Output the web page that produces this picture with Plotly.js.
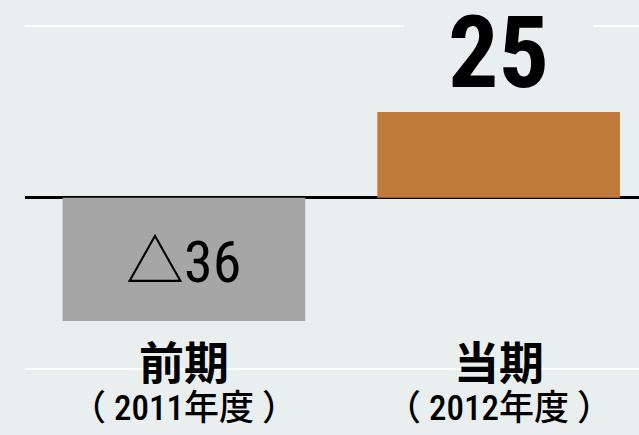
<!DOCTYPE html>
<html>
<head>
<meta charset="utf-8">
<script src="https://cdn.plot.ly/plotly-3.0.1.min.js"></script>
<style>html,body{margin:0;padding:0;background:#e9efef;}</style>
</head>
<body>
<div id="chart" style="width:639px;height:435px;"></div>
<script>
const categories = ['前期', '当期'];
const periods = ['（2011年度）', '（2012年度）'];
const values = [-36, 25];
const valueLabels = ['△36', '25'];
const barColors = ['#a6a6a6', '#c07a3c'];

const BG = '#e9efef';
const narrow = '"Roboto Condensed", "Noto Sans CJK JP", sans-serif';
const cjk = '"Noto Sans CJK JP", "Noto Sans CJK SC", sans-serif';

const trace = {
  type: 'bar',
  x: categories,
  y: values,
  width: 0.771,
  marker: {color: barColors},
  hoverinfo: 'none'
};

const annotations = [];
categories.forEach((c, i) => {
  annotations.push({
    xref: 'x', yref: 'paper', x: c, y: 0.1705, yanchor: 'middle',
    text: '<b>' + c + '</b>', showarrow: false,
    font: {family: cjk, size: 45, color: '#000'}
  });
  annotations.push({
    xref: 'x', yref: 'paper', x: c, y: 0.062, yanchor: 'middle',
    text: periods[i].replace('（', '（\u00a0').replace('）', '\u00a0）'), showarrow: false,
    font: {family: narrow, size: 35, weight: 500, color: '#000'}
  });
  if (values[i] >= 0) {
    annotations.push({
      xref: 'x', yref: 'paper', x: c, y: 0.8816, yanchor: 'middle',
      text: '<b>' + valueLabels[i] + '</b>', showarrow: false,
      width: 187, height: 86, bgcolor: BG,
      font: {family: narrow, size: 100, color: '#000'}
    });
  } else {
    annotations.push({
      xref: 'x', yref: 'paper', x: c, y: 0.3966, yanchor: 'middle',
      text: valueLabels[i], showarrow: false,
      font: {family: narrow, size: 58, color: '#000'}
    });
  }
});

const layout = {
  width: 639, height: 435,
  margin: {l: 25, r: 0, t: 0, b: 0, pad: 0},
  paper_bgcolor: BG, plot_bgcolor: BG,
  showlegend: false,
  xaxis: {
    type: 'category', range: [-0.505, 1.446],
    showticklabels: false, showgrid: false, zeroline: false, ticks: ''
  },
  yaxis: {
    range: [-69.3, 57.7], tickvals: [-50, 0, 50],
    showticklabels: false, ticks: '',
    showgrid: true, gridcolor: '#ffffff', gridwidth: 2,
    zeroline: true, zerolinecolor: '#000000', zerolinewidth: 2.5
  },
  annotations: annotations
};

Plotly.newPlot('chart', [trace], layout, {displayModeBar: false, staticPlot: true});
</script>
</body>
</html>
